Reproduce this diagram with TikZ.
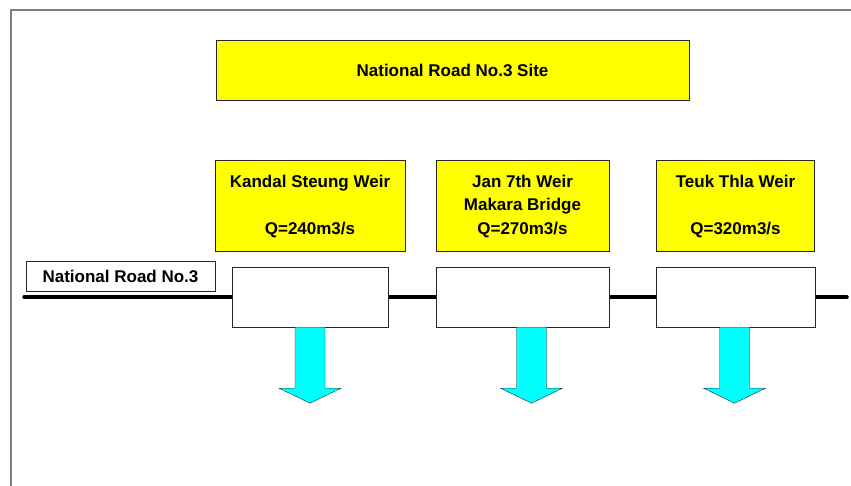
\documentclass[tikz,border=0pt]{standalone}
\usepackage{fontspec}
\setmainfont{Liberation Sans}
\usetikzlibrary{positioning}
\definecolor{weir}{HTML}{FFFF00}
\definecolor{flow}{HTML}{00FFFF}
\definecolor{frame}{HTML}{808080}

\begin{document}
\begin{tikzpicture}[
  x=1pt, y=1pt,
  txt/.style={font=\bfseries\fontsize{17}{23.5}\selectfont, align=center, inner sep=0pt},
  weirbox/.style={txt, draw=black!85, fill=weir, minimum height=91pt},
  roadbox/.style={draw=black!85, fill=white, minimum height=60pt},
  flowarr/.style={draw=black!85, fill=flow, line join=miter},
  road/.style={line width=3.5pt, line cap=round},
  node distance=15pt
]
  \useasboundingbox (0,0) rectangle (851,-486);
  % frame
  \draw[frame, line width=2pt] (851,-10) -- (11,-10) -- (11,-486);

  % road
  \coordinate (roadW) at (24,-297);
  \coordinate (roadE) at (847,-297);
  \draw[road] (roadW) -- (roadE);

  \node[weirbox, minimum width=473pt, minimum height=60pt] (site) at (452.5,-70) {National Road No.3 Site};
  \node[txt, draw=black!85, fill=white, minimum width=189pt, minimum height=30pt] (roadname) at (120.5,-276) {National Road No.3};

  \node[roadbox, minimum width=156pt] (box1) at (310,-297) {};
  \node[roadbox, minimum width=173pt] (box2) at (522.5,-297) {};
  \node[roadbox, minimum width=159pt] (box3) at (735.5,-297) {};

  \node[weirbox, minimum width=190pt, above=15pt of box1] (kandal) {Kandal Steung Weir\\ \\Q=240m3/s};
  \node[weirbox, minimum width=173pt, above=15pt of box2] (jan) {Jan 7th Weir\\Makara Bridge\\Q=270m3/s};
  \node[weirbox, minimum width=158pt, above=15pt of box3] (teuk) {Teuk Thla Weir\\ \\Q=320m3/s};

  % discharge arrows
  \draw[flowarr] ([xshift=-15pt]box1.south) -- ++(0,-61) -- ++(-16,0) -- ++(31,-15) -- ++(31,15) -- ++(-16,0) -- ++(0,61) -- cycle;
  \draw[flowarr] ([xshift=-6pt]box2.south) -- ++(0,-61) -- ++(-16,0) -- ++(31,-15) -- ++(31,15) -- ++(-16,0) -- ++(0,61) -- cycle;
  \draw[flowarr] ([xshift=-16pt]box3.south) -- ++(0,-61) -- ++(-16,0) -- ++(31,-15) -- ++(31,15) -- ++(-16,0) -- ++(0,61) -- cycle;
\end{tikzpicture}
\end{document}
